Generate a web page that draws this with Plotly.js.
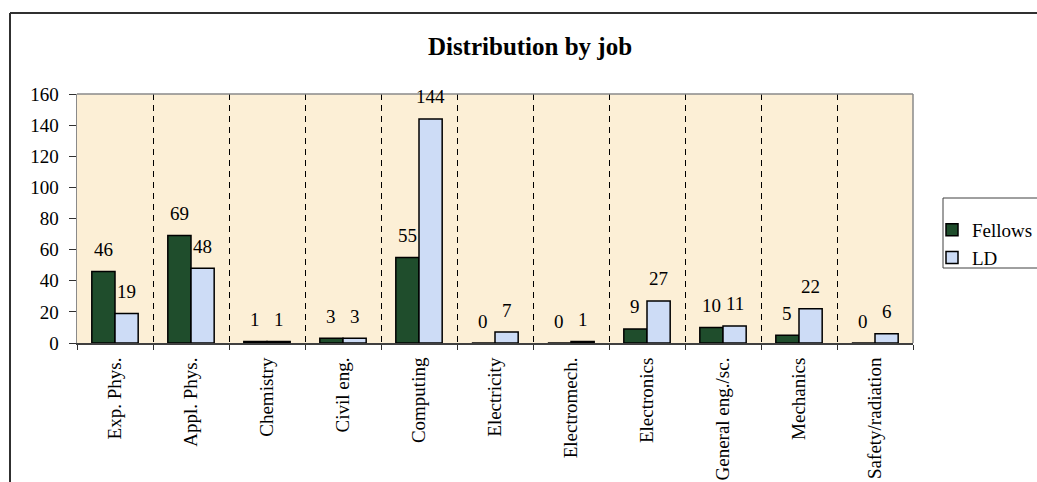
<!DOCTYPE html>
<html>
<head>
<meta charset="utf-8">
<script src="https://cdn.plot.ly/plotly-3.0.1.min.js"></script>
<style>
  html, body { margin: 0; padding: 0; background: #ffffff; }
  #chart { width: 1037px; height: 482px; }
</style>
</head>
<body>
<div id="chart"></div>
<script>
// Job categories and head counts per programme
const jobs = ["Exp. Phys.", "Appl. Phys.", "Chemistry", "Civil eng.", "Computing",
              "Electricity", "Electromech.", "Electronics", "General eng./sc.",
              "Mechanics", "Safety/radiation"];
const fellows = [46, 69, 1, 3, 55, 0, 0, 9, 10, 5, 0];
const ld = [19, 48, 1, 3, 144, 7, 1, 27, 11, 22, 6];
const seriesNames = ["Fellows", "LD"];

const FONT = 'Liberation Serif, Times New Roman, Times, serif';
const W = 1037, H = 482;
const M = { l: 77, r: 124, t: 94, b: 139, autoexpand: false };
const plotW = W - M.l - M.r, plotH = H - M.t - M.b;
const BARGAP = 0.39;

// paper-coordinate helpers for pixel positions
const px = x => (x - M.l) / plotW;
const py = y => (H - M.b - y) / plotH;

const traces = [
  {
    type: 'bar', name: seriesNames[0], x: jobs, y: fellows,
    marker: { color: '#1f4d2c', line: { color: '#000000', width: 1.5 } },
    hoverinfo: 'x+y'
  },
  {
    type: 'bar', name: seriesNames[1], x: jobs, y: ld,
    marker: { color: '#cddcf6', line: { color: '#000000', width: 1.5 } },
    hoverinfo: 'x+y'
  }
];

// value labels above each bar, offset to the left/right bar of the group
const catW = plotW / jobs.length;
const half = catW * (1 - BARGAP) / 4;
const annotations = [];
[fellows, ld].forEach((vals, s) => {
  vals.forEach((v, i) => {
    annotations.push({
      x: jobs[i], y: v, xref: 'x', yref: 'y',
      text: String(v), showarrow: false,
      xshift: s === 0 ? -half : half, yshift: 22,
      yanchor: 'middle', xanchor: 'center',
      font: { family: FONT, size: 19, color: '#000000' }
    });
  });
});

// chart frame (left and top edges), legend box, grey top/right plot edges
const shapes = [
  { type: 'line', xref: 'paper', yref: 'paper', x0: px(10), x1: px(10), y0: py(13), y1: py(H + 5),
    line: { color: '#303030', width: 2 } },
  { type: 'line', xref: 'paper', yref: 'paper', x0: px(10), x1: px(W + 5), y0: py(13), y1: py(13),
    line: { color: '#303030', width: 2 } },
  { type: 'rect', xref: 'paper', yref: 'paper', x0: px(943), x1: px(W + 10), y0: py(268), y1: py(198),
    line: { color: '#404040', width: 1 }, fillcolor: 'rgba(0,0,0,0)' },
  { type: 'line', xref: 'paper', yref: 'paper', x0: 0, x1: 1, y0: 1, y1: 1,
    line: { color: '#8a8a8a', width: 1.5 } },
  { type: 'line', xref: 'paper', yref: 'paper', x0: 1, x1: 1, y0: 0, y1: 1,
    line: { color: '#8a8a8a', width: 1.5 } }
];

const layout = {
  width: W, height: H,
  margin: M,
  paper_bgcolor: '#ffffff',
  plot_bgcolor: '#fcefd6',
  barmode: 'group',
  bargap: BARGAP,
  bargroupgap: 0,
  showlegend: true,
  title: {
    text: '<b>Distribution by job</b>',
    font: { family: FONT, size: 25, color: '#000000' },
    x: px(530), xanchor: 'center', xref: 'paper',
    y: 1 - 46 / H, yanchor: 'middle', yref: 'container'
  },
  font: { family: FONT, size: 19, color: '#000000' },
  xaxis: {
    type: 'category',
    tickson: 'boundaries',
    ticks: 'outside', ticklen: 5, tickcolor: '#303030', tickwidth: 1,
    tickangle: -90,
    ticklabelstandoff: 5,
    tickfont: { family: FONT, size: 19, color: '#000000' },
    showgrid: true, gridcolor: '#000000', gridwidth: 1, griddash: '6px,5px',
    showline: true, linecolor: '#404040', linewidth: 2,
    zeroline: false,
    automargin: false,
    fixedrange: true
  },
  yaxis: {
    range: [0, 160], dtick: 20,
    ticks: 'outside', ticklen: 7, tickcolor: '#303030', tickwidth: 1,
    ticklabelstandoff: 6,
    tickfont: { family: FONT, size: 19, color: '#000000' },
    showgrid: false,
    showline: true, linecolor: '#8a8a8a', linewidth: 1.5,
    zeroline: false,
    automargin: false,
    fixedrange: true
  },
  legend: {
    x: px(932), xanchor: 'left',
    y: py(211), yanchor: 'top',
    bgcolor: 'rgba(0,0,0,0)', borderwidth: 0,
    font: { family: FONT, size: 19, color: '#000000' },
    traceorder: 'normal'
  },
  annotations: annotations,
  shapes: shapes
};

Plotly.newPlot('chart', traces, layout, { displayModeBar: false, staticPlot: true });
</script>
</body>
</html>
